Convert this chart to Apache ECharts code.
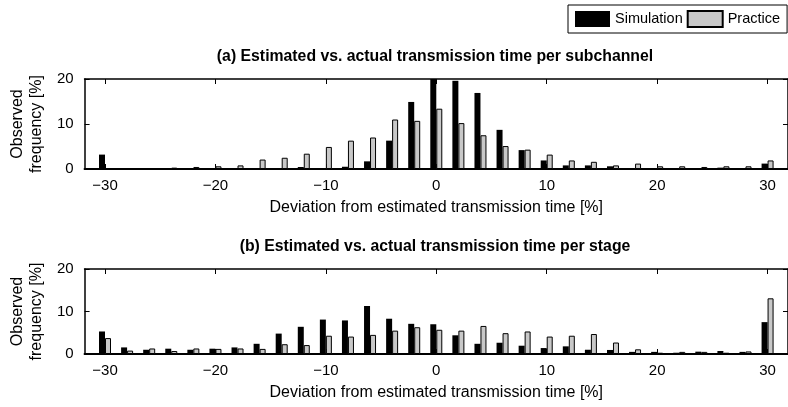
<!DOCTYPE html>
<html>
<head>
<meta charset="utf-8">
<script src="https://cdn.jsdelivr.net/npm/echarts@6/dist/echarts.min.js"></script>
<style>
html,body{margin:0;padding:0;background:#fff;}
#main{width:788px;height:407px;}
</style>
</head>
<body>
<div id="main"></div>
<script>
// deviation bins [%]
var bins = [-30,-28,-26,-24,-22,-20,-18,-16,-14,-12,-10,-8,-6,-4,-2,0,2,4,6,8,10,12,14,16,18,20,22,24,26,28,30];
var tickVals = [-30,-20,-10,0,10,20,30];

// (a) per subchannel
var simA   = [3.2,0,0,0,0,0,0,0,0.2,0.45,0,0.5,1.7,6.3,14.9,20,19.6,16.9,8.7,4.2,1.9,0.8,0.8,0.6,0.2,0.1,0.1,0,0.3,0.2,1.2];
var practA = [0,0,0,0.3,0.45,0.6,0.8,2.1,2.5,3.4,4.9,6.3,7.0,11.0,10.7,13.4,10.2,7.5,5.1,4.3,3.2,1.9,1.6,0.8,1.2,0.6,0.6,0.45,0.6,0.6,1.9];

// (b) per stage
var simB   = [5.3,1.55,1.0,1.25,1.0,1.25,1.55,2.4,4.8,6.4,8.1,7.9,11.3,8.3,7.1,7.0,4.4,2.4,2.65,1.95,1.4,1.8,1.0,0.95,0.5,0.5,0.3,0.55,0.7,0.5,7.5];
var practB = [3.75,0.8,1.3,0.7,1.3,1.2,1.3,1.2,2.3,2.1,4.3,4.1,4.5,5.5,6.3,5.7,5.5,6.6,4.9,5.3,4.1,4.3,4.7,2.7,1.1,0.3,0.5,0.5,0.3,0.6,13.1];

var FONT = 'Liberation Sans, Arial, sans-serif';
var xMin = -31.85, xMax = 31.85;

function pairs(vals){
	return bins.map(function(b,i){ return [b, vals[i]]; });
}

function minus(v){
	return v < 0 ? '\u2212' + Math.abs(v) : String(v);
}

// bottom axis with labels + top axis with ticks only
function xAxes(grid){
	return [{
		type:'value', gridIndex:grid, min:xMin, max:xMax, position:'bottom',
		name:'Deviation from estimated transmission time [%]', nameLocation:'middle', nameGap:31,
		nameTextStyle:{fontFamily:FONT, fontSize:16, color:'#000'},
		axisLine:{show:true, onZero:false, lineStyle:{color:'#000', width:2}},
		axisTick:{show:true, inside:true, length:5, customValues:tickVals, lineStyle:{color:'#000'}},
		axisLabel:{customValues:tickVals, formatter:minus, margin:9, fontFamily:FONT, fontSize:15, color:'#000'},
		splitLine:{show:false}
	},{
		type:'value', gridIndex:grid, min:xMin, max:xMax, position:'top',
		axisLine:{show:true, onZero:false, lineStyle:{color:'#000', width:1.5}},
		axisTick:{show:true, inside:true, length:5, customValues:tickVals, lineStyle:{color:'#000'}},
		axisLabel:{show:false},
		splitLine:{show:false}
	}];
}

function yAxes(grid){
	return [{
		type:'value', gridIndex:grid, min:0, max:20, interval:10, position:'left',
		name:'Observed\nfrequency [%]', nameLocation:'middle', nameRotate:90, nameGap:38,
		nameTextStyle:{fontFamily:FONT, fontSize:16, lineHeight:19, color:'#000'},
		axisLine:{show:true, onZero:false, lineStyle:{color:'#000', width:1.5}},
		axisTick:{show:true, inside:true, length:5, lineStyle:{color:'#000'}},
		axisLabel:{margin:11, fontFamily:FONT, fontSize:15, color:'#000'},
		splitLine:{show:false}
	},{
		type:'value', gridIndex:grid, min:0, max:20, interval:10, position:'right',
		axisLine:{show:true, onZero:false, lineStyle:{color:'#000', width:1.5}},
		axisTick:{show:true, inside:true, length:5, lineStyle:{color:'#000'}},
		axisLabel:{show:false},
		splitLine:{show:false}
	}];
}

function barSeries(name, vals, xi, yi, color){
	return {
		name:name, type:'bar', xAxisIndex:xi, yAxisIndex:yi,
		data:pairs(vals), barWidth:6, barGap:'0%',
		itemStyle:{color:color, borderColor:'#000', borderWidth:color === '#000' ? 0 : 1},
		emphasis:{disabled:true}
	};
}

var chart = echarts.init(document.getElementById('main'));

var option = {
	animation:false,
	backgroundColor:'#fff',
	legend:{
		left:568, top:5, width:400, orient:'horizontal',
		padding:[5,7,5,7], itemGap:4,
		itemWidth:35, itemHeight:16, icon:'rect',
		borderColor:'#000', borderWidth:1,
		textStyle:{fontFamily:FONT, fontSize:14.5, color:'#000'},
		data:['Simulation','Practice']
	},
	graphic:[
		{type:'text', x:435, y:57, style:{text:'(a) Estimated vs. actual transmission time per subchannel', font:'bold 15.8px ' + FONT, fill:'#000', textAlign:'center', textVerticalAlign:'middle'}},
		{type:'text', x:435, y:247, style:{text:'(b) Estimated vs. actual transmission time per stage', font:'bold 15.8px ' + FONT, fill:'#000', textAlign:'center', textVerticalAlign:'middle'}}
	],
	grid:[
		{left:83, top:79, width:709, height:90},
		{left:83, top:269, width:709, height:85}
	],
	xAxis: xAxes(0).concat(xAxes(1)),
	yAxis: yAxes(0).concat(yAxes(1)),
	series:[
		barSeries('Simulation', simA, 0, 0, '#000'),
		barSeries('Practice', practA, 0, 0, '#c8c8c8'),
		barSeries('Simulation', simB, 2, 2, '#000'),
		barSeries('Practice', practB, 2, 2, '#c8c8c8')
	]
};

chart.setOption(option);
</script>
</body>
</html>
